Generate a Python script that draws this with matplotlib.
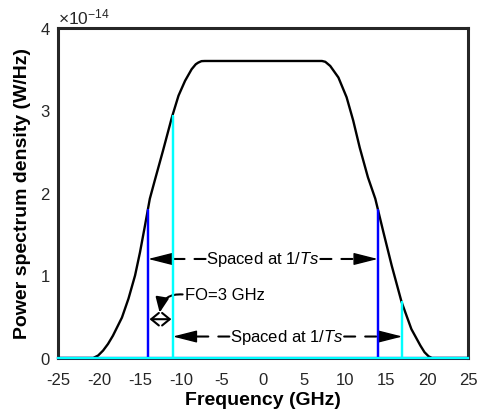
import matplotlib.pyplot as plt

plt.rcParams['font.family'] = ['Liberation Sans', 'DejaVu Sans']
plt.rcParams['mathtext.fontset'] = 'custom'
plt.rcParams['mathtext.rm'] = 'Liberation Sans'
plt.rcParams['mathtext.it'] = 'Liberation Sans:italic'
plt.rcParams['axes.unicode_minus'] = False

# PSD curve (units of 1e-14 W/Hz)
freq = [-25, -20.7, -20.1, -19.5, -18.9, -18.3, -17.2, -16.4, -15.6, -15.0, -14.4, -13.8,
        -13.2, -12.2, -11.1, -10.3, -9.5, -8.7, -8.2, -7.9, -7.5, -7.1,
        7.2, 7.6, 8.2, 9.2, 10.2, 11.0, 11.8, 12.8, 13.7, 14.7, 15.7, 16.9,
        18.1, 19.2, 19.7, 20.2, 20.6, 25]
psd = [0, 0, 0.03, 0.09, 0.17, 0.27, 0.49, 0.72, 1.00, 1.28, 1.60, 1.93,
       2.15, 2.51, 2.92, 3.18, 3.36, 3.50, 3.56, 3.58, 3.598, 3.60,
       3.60, 3.59, 3.54, 3.40, 3.16, 2.88, 2.55, 2.19, 1.93, 1.52, 1.12, 0.68,
       0.35, 0.15, 0.07, 0.02, 0, 0]

# sampled channel lines
blue_f = [-25, -14, -14, -14, 14, 14, 14, 25]
blue_p = [0, 0, 1.79, 0, 0, 1.79, 0, 0]
cyan_f = [-25, -11, -11, -11, 17, 17, 17, 25]
cyan_p = [0, 0, 2.93, 0, 0, 0.68, 0, 0]

xticks = list(range(-25, 30, 5))
yticks = [0, 1, 2, 3, 4]

fig = plt.figure(figsize=(4.78, 4.14), dpi=100)
ax = fig.add_axes([0.1213, 0.1329, 0.8577, 0.7971])

ax.plot(freq, psd, color='k', lw=1.7, zorder=3)
ax.plot(blue_f, blue_p, color=(0, 0, 1), lw=1.6, zorder=4, clip_on=False)
ax.plot(cyan_f, cyan_p, color=(0, 1, 1), lw=1.6, zorder=5, clip_on=False)

ax.set_xlim(-25, 25)
ax.set_ylim(0, 4)
ax.set_xticks(xticks)
ax.set_yticks(yticks)
ax.set_xticks([-15, -5, 5, 15], minor=True)
ax.set_yticks([1, 2, 3], minor=True)
ax.tick_params(which='major', length=0, labelsize=12, colors='#262626')
ax.tick_params(axis='x', which='major', pad=10)
ax.tick_params(axis='y', which='major', pad=6)
ax.tick_params(which='minor', direction='in', length=4, width=1.8,
               top=True, right=True, color='#262626')
for s in ax.spines.values():
    s.set_linewidth(2.2)
    s.set_color('#262626')

ax.set_xlabel('Frequency (GHz)', fontsize=14, fontweight='bold', labelpad=3)
ax.set_ylabel('Power spectrum density (W/Hz)', fontsize=14, fontweight='bold', labelpad=7)
ax.text(0, 1.005, r'$\times10^{-14}$', transform=ax.transAxes, fontsize=12.5,
        ha='left', va='bottom', color='#262626')

label = r'Spaced at 1/$\mathit{Ts}$'


def dashed_arrow(x0, x1, y):
    # dashed shaft from text edge, solid filled head at x1
    head = 2.5 if x1 > x0 else -2.5
    ax.annotate('', xy=(x1 - head, y), xytext=(x0, y),
                arrowprops=dict(arrowstyle='-', lw=1.5, color='k',
                                linestyle=(0, (5.3, 4.8)), shrinkA=0, shrinkB=0))
    ax.annotate('', xy=(x1, y), xytext=(x1 - head, y),
                arrowprops=dict(arrowstyle='-|>,head_length=1.5,head_width=0.38',
                                mutation_scale=10, lw=1, color='k',
                                shrinkA=0, shrinkB=0))


ax.text(0, 1.2, label, fontsize=12, ha='center', va='center')
dashed_arrow(-7.0, -14, 1.2)
dashed_arrow(7.0, 14, 1.2)

ax.text(2.9, 0.26, label, fontsize=12, ha='center', va='center')
dashed_arrow(-4.1, -11, 0.26)
dashed_arrow(9.9, 17, 0.26)

ax.text(-9.55, 0.77, 'FO=3 GHz', fontsize=12, ha='left', va='center')
ax.annotate('', xy=(-12.6, 0.55), xytext=(-9.8, 0.77),
            arrowprops=dict(arrowstyle='-|>,head_length=0.9,head_width=0.4',
                            mutation_scale=10, lw=1.5, color='k',
                            connectionstyle='arc3,rad=0.45', shrinkA=0, shrinkB=0))
ax.annotate('', xy=(-11, 0.47), xytext=(-14, 0.47),
            arrowprops=dict(arrowstyle='<->,head_length=0.55,head_width=0.45',
                            mutation_scale=10, lw=1.5, color='k',
                            shrinkA=1, shrinkB=1))

fig.savefig('out.png', dpi=100)
